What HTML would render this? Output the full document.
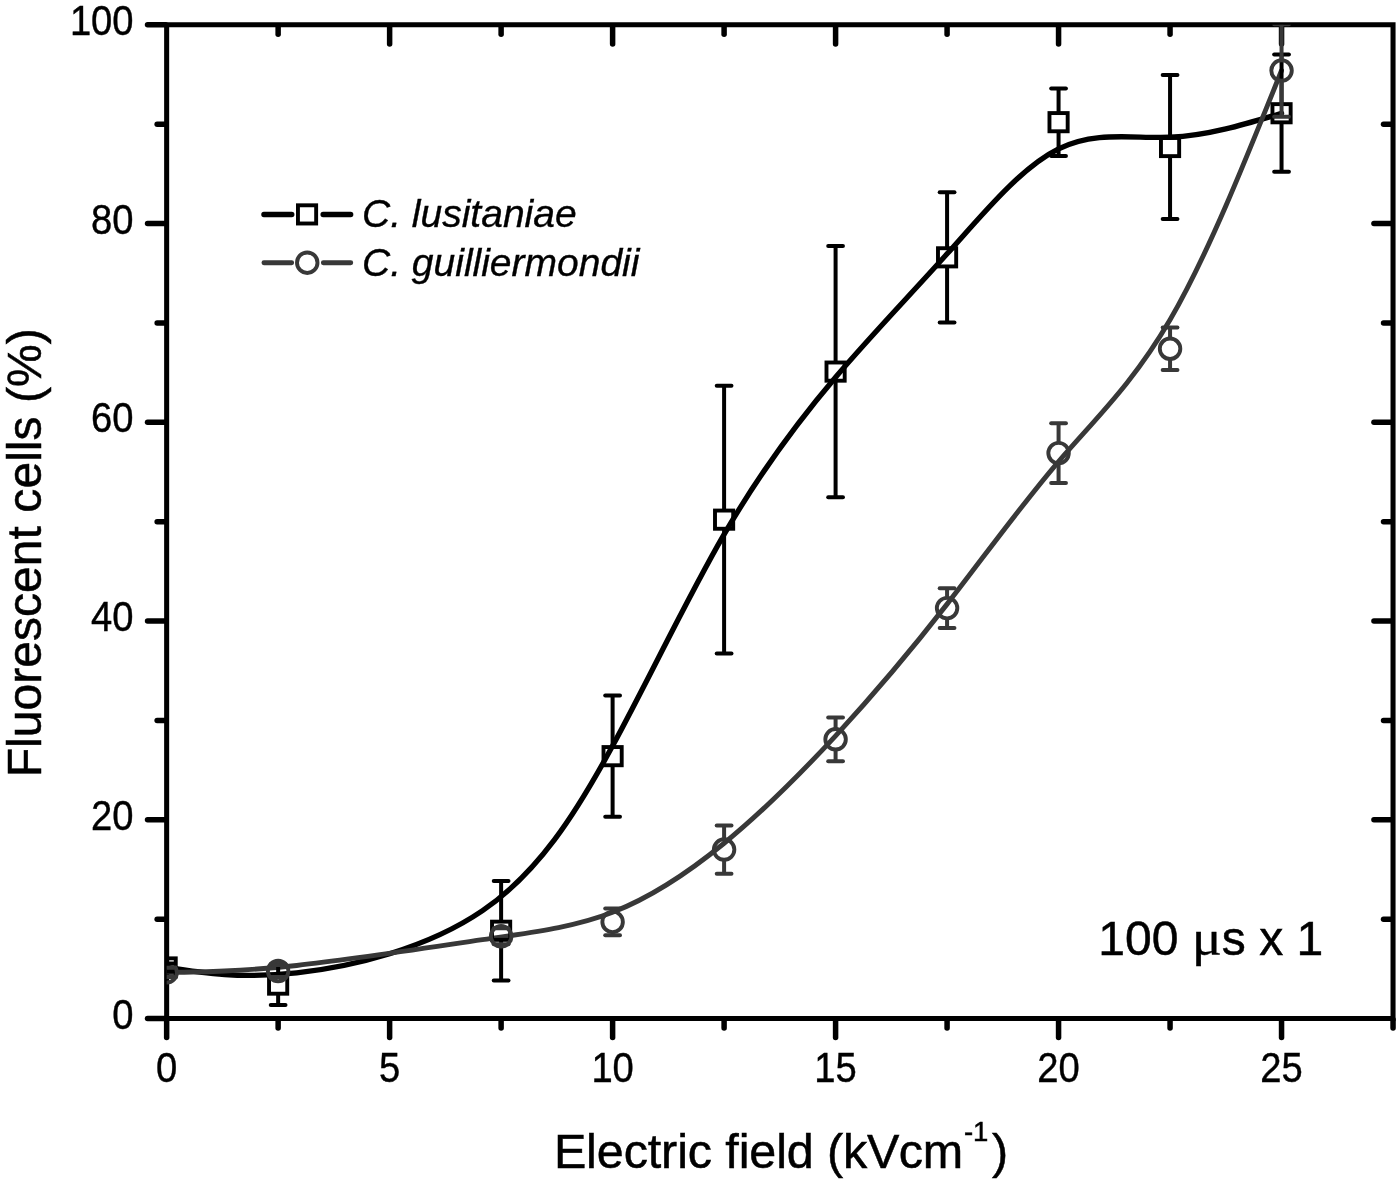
<!DOCTYPE html>
<html lang="en"><head><meta charset="utf-8"><title>Fluorescent cells vs electric field</title>
<style>html,body{margin:0;padding:0;background:#ffffff}svg{display:block}</style></head>
<body>
<svg width="1400" height="1186" viewBox="0 0 1400 1186">
<rect width="1400" height="1186" fill="#ffffff"/>
<defs><clipPath id="pc"><rect x="166.65" y="24.80" width="1226.39" height="993.70"/></clipPath><clipPath id="c0"><rect x="160" y="965.6" width="40" height="40"/></clipPath></defs>
<g stroke="#000" fill="none" stroke-linecap="round">
<path d="M166.65 24.80 H1393.04 V1018.50 H166.65 Z" stroke-width="5.05" stroke-linejoin="miter" stroke-linecap="butt"/>
<path d="M166.65 1019.50 V1037.60" stroke-width="5.50"/>
<path d="M278.14 1019.50 V1028.00" stroke-width="5.50"/>
<path d="M278.14 25.80 V34.30" stroke-width="5.50"/>
<path d="M389.63 1019.50 V1037.60" stroke-width="5.50"/>
<path d="M389.63 25.80 V43.90" stroke-width="5.50"/>
<path d="M501.12 1019.50 V1028.00" stroke-width="5.50"/>
<path d="M501.12 25.80 V34.30" stroke-width="5.50"/>
<path d="M612.61 1019.50 V1037.60" stroke-width="5.50"/>
<path d="M612.61 25.80 V43.90" stroke-width="5.50"/>
<path d="M724.10 1019.50 V1028.00" stroke-width="5.50"/>
<path d="M724.10 25.80 V34.30" stroke-width="5.50"/>
<path d="M835.59 1019.50 V1037.60" stroke-width="5.50"/>
<path d="M835.59 25.80 V43.90" stroke-width="5.50"/>
<path d="M947.08 1019.50 V1028.00" stroke-width="5.50"/>
<path d="M947.08 25.80 V34.30" stroke-width="5.50"/>
<path d="M1058.57 1019.50 V1037.60" stroke-width="5.50"/>
<path d="M1058.57 25.80 V43.90" stroke-width="5.50"/>
<path d="M1170.06 1019.50 V1028.00" stroke-width="5.50"/>
<path d="M1170.06 25.80 V34.30" stroke-width="5.50"/>
<path d="M1281.55 1019.50 V1037.60" stroke-width="5.50"/>
<path d="M1281.55 25.80 V43.90" stroke-width="5.50"/>
<path d="M1393.04 1019.50 V1028.00" stroke-width="5.50"/>
<path d="M165.65 1018.50 H147.55" stroke-width="5.50"/>
<path d="M165.65 919.13 H157.15" stroke-width="5.50"/>
<path d="M1392.04 919.13 H1383.54" stroke-width="5.50"/>
<path d="M165.65 819.76 H147.55" stroke-width="5.50"/>
<path d="M1392.04 819.76 H1373.94" stroke-width="5.50"/>
<path d="M165.65 720.39 H157.15" stroke-width="5.50"/>
<path d="M1392.04 720.39 H1383.54" stroke-width="5.50"/>
<path d="M165.65 621.02 H147.55" stroke-width="5.50"/>
<path d="M1392.04 621.02 H1373.94" stroke-width="5.50"/>
<path d="M165.65 521.65 H157.15" stroke-width="5.50"/>
<path d="M1392.04 521.65 H1383.54" stroke-width="5.50"/>
<path d="M165.65 422.28 H147.55" stroke-width="5.50"/>
<path d="M1392.04 422.28 H1373.94" stroke-width="5.50"/>
<path d="M165.65 322.91 H157.15" stroke-width="5.50"/>
<path d="M1392.04 322.91 H1383.54" stroke-width="5.50"/>
<path d="M165.65 223.54 H147.55" stroke-width="5.50"/>
<path d="M1392.04 223.54 H1373.94" stroke-width="5.50"/>
<path d="M165.65 124.17 H157.15" stroke-width="5.50"/>
<path d="M1392.04 124.17 H1383.54" stroke-width="5.50"/>
<path d="M165.65 24.80 H147.55" stroke-width="5.50"/>
</g>
<path clip-path="url(#pc)" d="M166.65 967.45 C203.81 973.17 240.98 978.89 296.72 972.78 C352.47 966.66 426.79 948.71 482.54 910.63 C538.28 872.56 575.45 814.36 612.61 745.85 C649.77 677.33 686.94 598.50 724.10 534.40 C761.26 470.31 798.43 420.96 835.59 377.23 C872.75 333.51 909.92 295.42 947.08 253.85 C984.24 212.28 1021.41 167.23 1058.57 148.85 C1095.73 130.46 1132.90 138.74 1170.06 137.25 C1207.22 135.76 1244.39 124.50 1281.55 113.24" fill="none" stroke="#000" stroke-width="5.30" stroke-linecap="round" stroke-linejoin="round"/>
<path clip-path="url(#pc)" d="M166.65 972.39 C203.81 971.93 240.98 971.46 296.72 965.45 C352.47 959.44 426.79 947.88 482.54 939.70 C538.28 931.52 575.45 926.72 612.61 912.26 C649.77 897.80 686.94 873.68 724.10 843.24 C761.26 812.80 798.43 776.04 835.59 735.79 C872.75 695.55 909.92 651.82 947.08 604.13 C984.24 556.43 1021.41 504.76 1058.57 461.53 C1095.73 418.31 1132.90 383.53 1170.06 319.76 C1207.22 256.00 1244.39 163.26 1281.55 70.51" fill="none" stroke="#383838" stroke-width="4.90" stroke-linecap="round" stroke-linejoin="round"/>
<g clip-path="url(#pc)" fill="none" stroke="#000" stroke-linecap="round">
<path d="M159.28 963.48 H174.03" stroke-width="4.00"/>
<path d="M159.28 971.43 H174.03" stroke-width="4.00"/>
<path d="M278.14 974.56 V964.14" stroke-width="4.00" stroke-linecap="butt"/>
<path d="M270.76 964.14 H285.51" stroke-width="4.00"/>
<path d="M278.14 994.66 V1005.09" stroke-width="4.00" stroke-linecap="butt"/>
<path d="M270.76 1005.09 H285.51" stroke-width="4.00"/>
<path d="M501.12 920.71 V881.07" stroke-width="4.00" stroke-linecap="butt"/>
<path d="M493.75 881.07 H508.50" stroke-width="4.00"/>
<path d="M501.12 940.81 V980.44" stroke-width="4.00" stroke-linecap="butt"/>
<path d="M493.75 980.44 H508.50" stroke-width="4.00"/>
<path d="M612.61 746.11 V695.55" stroke-width="4.00" stroke-linecap="butt"/>
<path d="M605.24 695.55 H619.99" stroke-width="4.00"/>
<path d="M612.61 766.21 V816.78" stroke-width="4.00" stroke-linecap="butt"/>
<path d="M605.24 816.78 H619.99" stroke-width="4.00"/>
<path d="M724.10 509.61 V385.81" stroke-width="4.00" stroke-linecap="butt"/>
<path d="M716.72 385.81 H731.47" stroke-width="4.00"/>
<path d="M724.10 529.71 V653.51" stroke-width="4.00" stroke-linecap="butt"/>
<path d="M716.72 653.51 H731.47" stroke-width="4.00"/>
<path d="M835.59 361.55 V246.00" stroke-width="4.00" stroke-linecap="butt"/>
<path d="M828.21 246.00 H842.96" stroke-width="4.00"/>
<path d="M835.59 381.65 V497.20" stroke-width="4.00" stroke-linecap="butt"/>
<path d="M828.21 497.20 H842.96" stroke-width="4.00"/>
<path d="M947.08 247.28 V192.14" stroke-width="4.00" stroke-linecap="butt"/>
<path d="M939.70 192.14 H954.45" stroke-width="4.00"/>
<path d="M947.08 267.38 V322.51" stroke-width="4.00" stroke-linecap="butt"/>
<path d="M939.70 322.51 H954.45" stroke-width="4.00"/>
<path d="M1058.57 112.13 V88.40" stroke-width="4.00" stroke-linecap="butt"/>
<path d="M1051.19 88.40 H1065.94" stroke-width="4.00"/>
<path d="M1058.57 132.23 V155.97" stroke-width="4.00" stroke-linecap="butt"/>
<path d="M1051.19 155.97 H1065.94" stroke-width="4.00"/>
<path d="M1170.06 136.98 V75.08" stroke-width="4.00" stroke-linecap="butt"/>
<path d="M1162.68 75.08 H1177.43" stroke-width="4.00"/>
<path d="M1170.06 157.08 V218.97" stroke-width="4.00" stroke-linecap="butt"/>
<path d="M1162.68 218.97 H1177.43" stroke-width="4.00"/>
<path d="M1281.55 103.19 V54.61" stroke-width="4.00" stroke-linecap="butt"/>
<path d="M1274.17 54.61 H1288.92" stroke-width="4.00"/>
<path d="M1281.55 123.29 V171.87" stroke-width="4.00" stroke-linecap="butt"/>
<path d="M1274.17 171.87 H1288.92" stroke-width="4.00"/>
<rect x="157.55" y="958.35" width="18.20" height="18.20" stroke-width="3.90" stroke-linejoin="miter"/>
<rect x="269.04" y="975.51" width="18.20" height="18.20" stroke-width="3.90" stroke-linejoin="miter"/>
<rect x="492.02" y="921.66" width="18.20" height="18.20" stroke-width="3.90" stroke-linejoin="miter"/>
<rect x="603.51" y="747.06" width="18.20" height="18.20" stroke-width="3.90" stroke-linejoin="miter"/>
<rect x="715.00" y="510.56" width="18.20" height="18.20" stroke-width="3.90" stroke-linejoin="miter"/>
<rect x="826.49" y="362.50" width="18.20" height="18.20" stroke-width="3.90" stroke-linejoin="miter"/>
<rect x="937.98" y="248.23" width="18.20" height="18.20" stroke-width="3.90" stroke-linejoin="miter"/>
<rect x="1049.47" y="113.08" width="18.20" height="18.20" stroke-width="3.90" stroke-linejoin="miter"/>
<rect x="1160.96" y="137.93" width="18.20" height="18.20" stroke-width="3.90" stroke-linejoin="miter"/>
<rect x="1272.45" y="104.14" width="18.20" height="18.20" stroke-width="3.90" stroke-linejoin="miter"/>
</g>
<g clip-path="url(#pc)" fill="none" stroke="#383838" stroke-linecap="round">
<path d="M159.28 967.82 H174.03" stroke-width="4.00"/>
<path d="M159.28 976.96 H174.03" stroke-width="4.00"/>
<path d="M270.76 965.04 H285.51" stroke-width="4.00"/>
<path d="M270.76 976.96 H285.51" stroke-width="4.00"/>
<path d="M493.75 928.37 H508.50" stroke-width="4.00"/>
<path d="M493.75 944.27 H508.50" stroke-width="4.00"/>
<path d="M612.61 910.71 V908.60" stroke-width="4.00" stroke-linecap="butt"/>
<path d="M605.24 908.60 H619.99" stroke-width="4.00"/>
<path d="M612.61 933.11 V935.23" stroke-width="4.00" stroke-linecap="butt"/>
<path d="M605.24 935.23 H619.99" stroke-width="4.00"/>
<path d="M724.10 838.37 V825.42" stroke-width="4.00" stroke-linecap="butt"/>
<path d="M716.72 825.42 H731.47" stroke-width="4.00"/>
<path d="M724.10 860.77 V873.72" stroke-width="4.00" stroke-linecap="butt"/>
<path d="M716.72 873.72 H731.47" stroke-width="4.00"/>
<path d="M835.59 728.07 V717.41" stroke-width="4.00" stroke-linecap="butt"/>
<path d="M828.21 717.41 H842.96" stroke-width="4.00"/>
<path d="M835.59 750.47 V761.13" stroke-width="4.00" stroke-linecap="butt"/>
<path d="M828.21 761.13 H842.96" stroke-width="4.00"/>
<path d="M947.08 596.90 V588.23" stroke-width="4.00" stroke-linecap="butt"/>
<path d="M939.70 588.23 H954.45" stroke-width="4.00"/>
<path d="M947.08 619.30 V627.98" stroke-width="4.00" stroke-linecap="butt"/>
<path d="M939.70 627.98 H954.45" stroke-width="4.00"/>
<path d="M1058.57 441.88 V423.27" stroke-width="4.00" stroke-linecap="butt"/>
<path d="M1051.19 423.27 H1065.94" stroke-width="4.00"/>
<path d="M1058.57 464.28 V482.90" stroke-width="4.00" stroke-linecap="butt"/>
<path d="M1051.19 482.90 H1065.94" stroke-width="4.00"/>
<path d="M1170.06 337.55 V327.38" stroke-width="4.00" stroke-linecap="butt"/>
<path d="M1162.68 327.38 H1177.43" stroke-width="4.00"/>
<path d="M1170.06 359.95 V370.11" stroke-width="4.00" stroke-linecap="butt"/>
<path d="M1162.68 370.11 H1177.43" stroke-width="4.00"/>
<path d="M1281.55 59.31 V24.30" stroke-width="4.00" stroke-linecap="butt"/>
<path d="M1274.17 24.30 H1288.92" stroke-width="4.00"/>
<path d="M1281.55 81.71 V116.72" stroke-width="4.00" stroke-linecap="butt"/>
<path d="M1274.17 116.72 H1288.92" stroke-width="4.00"/>
<circle cx="166.65" cy="972.39" r="10.25" stroke-width="3.90" clip-path="url(#c0)"/>
<circle cx="278.14" cy="971.00" r="10.25" stroke-width="3.90"/>
<circle cx="501.12" cy="936.32" r="10.25" stroke-width="3.90"/>
<circle cx="612.61" cy="921.91" r="10.25" stroke-width="3.90"/>
<circle cx="724.10" cy="849.57" r="10.25" stroke-width="3.90"/>
<circle cx="835.59" cy="739.27" r="10.25" stroke-width="3.90"/>
<circle cx="947.08" cy="608.10" r="10.25" stroke-width="3.90"/>
<circle cx="1058.57" cy="453.08" r="10.25" stroke-width="3.90"/>
<circle cx="1170.06" cy="348.75" r="10.25" stroke-width="3.90"/>
<circle cx="1281.55" cy="70.51" r="10.25" stroke-width="3.90"/>
</g>
<g font-family="Liberation Sans, sans-serif" font-size="39.8" fill="#000" stroke="#000" stroke-width="0.4">
<text transform="translate(166.65 1081.5) scale(0.960 1.050)" text-anchor="middle">0</text>
<text transform="translate(389.63 1081.5) scale(0.960 1.050)" text-anchor="middle">5</text>
<text transform="translate(612.61 1081.5) scale(0.960 1.050)" text-anchor="middle">10</text>
<text transform="translate(835.59 1081.5) scale(0.960 1.050)" text-anchor="middle">15</text>
<text transform="translate(1058.57 1081.5) scale(0.960 1.050)" text-anchor="middle">20</text>
<text transform="translate(1281.55 1081.5) scale(0.960 1.050)" text-anchor="middle">25</text>
<text transform="translate(133.6 1028.70) scale(0.960 1.050)" text-anchor="end">0</text>
<text transform="translate(133.6 829.96) scale(0.960 1.050)" text-anchor="end">20</text>
<text transform="translate(133.6 631.22) scale(0.960 1.050)" text-anchor="end">40</text>
<text transform="translate(133.6 432.48) scale(0.960 1.050)" text-anchor="end">60</text>
<text transform="translate(133.6 233.74) scale(0.960 1.050)" text-anchor="end">80</text>
<text transform="translate(133.6 35.00) scale(0.960 1.050)" text-anchor="end">100</text>
</g>
<g font-family="Liberation Sans, sans-serif" fill="#000" stroke="#000" stroke-width="0.5">
<text x="553.9" y="1167.8" font-size="48.5" letter-spacing="-0.12">Electric field (<tspan letter-spacing="-0.4">kVcm</tspan><tspan font-size="27.5" dx="1.3" dy="-26.6">-1</tspan><tspan dx="3.8" dy="26.6">)</tspan></text>
<text transform="translate(40.5 777.3) rotate(-90)" font-size="48.1">Fluorescent cells (%)</text>
<text x="1098.3" y="955.2" font-size="48">100 <tspan font-family="Liberation Serif, serif" font-size="51.5" stroke-width="0.3" textLength="30.1" lengthAdjust="spacingAndGlyphs">μ</tspan><tspan>s x 1</tspan></text>
</g>
<g fill="none" stroke-linecap="round">
<path d="M263.9 214.5 H291.8 M323.1 214.5 H350.7" stroke="#000" stroke-width="5.3"/>
<rect x="297.95" y="205.30" width="18.20" height="18.20" stroke="#000" stroke-width="3.90"/>
<path d="M263.9 262.75 H291.7 M323.3 262.75 H350.8" stroke="#383838" stroke-width="4.8"/>
<circle cx="307.25" cy="262.7" r="10.25" stroke="#383838" stroke-width="3.90"/>
</g>
<g font-family="Liberation Sans, sans-serif" font-style="italic" font-size="39" fill="#000" stroke="#000" stroke-width="0.35">
<text x="362" y="227.1">C. lusitaniae</text>
<text x="362" y="275.7">C. guilliermondii</text>
</g>
</svg>
</body></html>
